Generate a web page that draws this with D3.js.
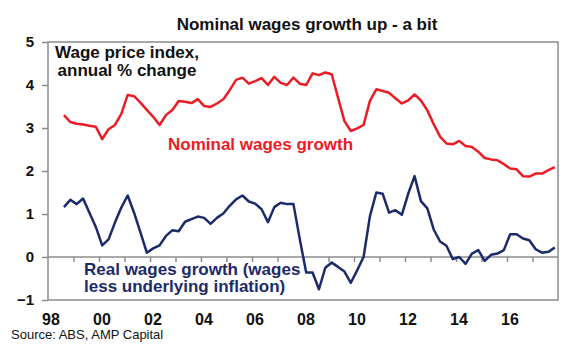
<!DOCTYPE html>
<html>
<head>
<meta charset="utf-8">
<script src="https://cdn.jsdelivr.net/npm/d3@7"></script>
<style>
  html, body { margin: 0; padding: 0; background: #fff; }
  svg { display: block; font-family: "Liberation Sans", Arial, sans-serif; }
</style>
</head>
<body>
<div id="chart"></div>
<script>
// ── Data ─────────────────────────────────────────────────────────
// Quarterly, Sep 1998 .. Dec 2017 (annual % change)
const startYear = 1998.625;
const nominalWages = [
  3.30, 3.14, 3.10, 3.08, 3.05, 3.03, 2.74, 2.97, 3.07, 3.33,
  3.77, 3.74, 3.59, 3.42, 3.26, 3.07, 3.30, 3.42, 3.63, 3.61,
  3.58, 3.67, 3.51, 3.49, 3.57, 3.67, 3.88, 4.12, 4.17, 4.03,
  4.09, 4.16, 4.00, 4.19, 4.05, 4.00, 4.17, 4.03, 4.00, 4.27,
  4.23, 4.29, 4.25, 3.70, 3.16, 2.93, 2.99, 3.07, 3.63, 3.90,
  3.86, 3.82, 3.69, 3.57, 3.64, 3.78, 3.64, 3.41, 3.09, 2.80,
  2.64, 2.62, 2.70, 2.58, 2.56, 2.45, 2.30, 2.27, 2.25, 2.16,
  2.06, 2.04, 1.88, 1.87, 1.94, 1.94, 2.02, 2.09
];
const realWages = [
  1.16, 1.33, 1.23, 1.36, 1.03, 0.70, 0.27, 0.41, 0.80, 1.15,
  1.43, 1.03, 0.57, 0.10, 0.20, 0.27, 0.49, 0.62, 0.60, 0.82,
  0.88, 0.94, 0.91, 0.77, 0.91, 1.01, 1.19, 1.34, 1.43, 1.29,
  1.24, 1.11, 0.81, 1.16, 1.26, 1.23, 1.23, 0.41, -0.36, -0.36,
  -0.75, -0.25, -0.13, -0.23, -0.34, -0.60, -0.31, 0.00, 0.95, 1.50,
  1.47, 1.03, 1.09, 0.98, 1.47, 1.88, 1.30, 1.13, 0.64, 0.36,
  0.26, -0.05, 0.00, -0.16, 0.08, 0.16, -0.09, 0.05, 0.08, 0.16,
  0.53, 0.53, 0.43, 0.39, 0.18, 0.10, 0.12, 0.22
];
const yTicks = [-1, 0, 1, 2, 3, 4, 5];
const xTickYears = d3.range(1999, 2018);
const xLabelYears = [1998, 2000, 2002, 2004, 2006, 2008, 2010, 2012, 2014, 2016];

const RED = '#ec1c24';
const NAVY = '#1b2a6b';
const GRID = '#8c8c8c';

// ── Layout ───────────────────────────────────────────────────────
const W = 580, H = 352;
const plot = { left: 48, right: 558, top: 42, bottom: 300 };

const svg = d3.select('#chart').append('svg')
  .attr('width', W)
  .attr('height', H);

const x = d3.scaleLinear().domain([1998, 2018]).range([plot.left, plot.right]);
const y = d3.scaleLinear().domain([-1, 5]).range([plot.bottom, plot.top]);

const t = i => startYear + i * 0.25;

// Title
svg.append('text')
  .attr('x', 307).attr('y', 30)
  .attr('text-anchor', 'middle')
  .attr('font-size', 17).attr('font-weight', 700)
  .attr('fill', '#111')
  .text('Nominal wages growth up - a bit');

// Frame
svg.append('rect')
  .attr('x', plot.left).attr('y', plot.top)
  .attr('width', plot.right - plot.left)
  .attr('height', plot.bottom - plot.top)
  .attr('fill', 'none')
  .attr('stroke', GRID)
  .attr('stroke-width', 1.5);

// Y axis ticks + labels
const yAxis = d3.axisLeft(y).tickValues(yTicks).tickSize(6).tickPadding(8)
  .tickFormat(d3.format('d'));
svg.append('g')
  .attr('transform', `translate(${plot.left},0)`)
  .call(yAxis)
  .call(g => g.select('.domain').remove())
  .call(g => g.selectAll('line').attr('stroke', GRID).attr('stroke-width', 1.5))
  .call(g => g.selectAll('text')
    .attr('font-size', 15).attr('font-weight', 700).attr('fill', '#111')
    .attr('font-family', '"Liberation Sans", Arial, sans-serif'));

// Zero line with yearly ticks
const xAxis = d3.axisBottom(x).tickValues(xTickYears).tickSize(5).tickFormat('');
svg.append('g')
  .attr('transform', `translate(0,${y(0)})`)
  .call(xAxis)
  .call(g => g.select('.domain').attr('d', `M${plot.left},0H${plot.right}`)
    .attr('stroke', GRID).attr('stroke-width', 1.5))
  .call(g => g.selectAll('line').attr('stroke', GRID).attr('stroke-width', 1.5));

// X labels (two-digit years)
svg.append('g')
  .selectAll('text')
  .data(xLabelYears)
  .enter()
  .append('text')
  .attr('x', d => x(d) + 3)
  .attr('y', 325)
  .attr('text-anchor', 'middle')
  .attr('font-size', 16).attr('font-weight', 700)
  .attr('fill', '#111')
  .text(d => String(d).slice(2));

// Lines
const line = d3.line()
  .x((d, i) => x(t(i)))
  .y(d => y(d));

svg.append('path')
  .datum(nominalWages)
  .attr('d', line)
  .attr('fill', 'none')
  .attr('stroke', RED)
  .attr('stroke-width', 2.5)
  .attr('stroke-linejoin', 'round');

svg.append('path')
  .datum(realWages)
  .attr('d', line)
  .attr('fill', 'none')
  .attr('stroke', NAVY)
  .attr('stroke-width', 2.5)
  .attr('stroke-linejoin', 'round');

// Annotations
const note = svg.append('text')
  .attr('text-anchor', 'middle')
  .attr('font-size', 17).attr('font-weight', 700)
  .attr('fill', '#111');
note.append('tspan').attr('x', 127).attr('y', 58).text('Wage price index,');
note.append('tspan').attr('x', 127).attr('y', 76).text('annual % change');

svg.append('text')
  .attr('x', 168).attr('y', 150)
  .attr('font-size', 17).attr('font-weight', 700)
  .attr('fill', RED)
  .text('Nominal wages growth');

const real = svg.append('text')
  .attr('font-size', 17).attr('font-weight', 700)
  .attr('fill', NAVY);
real.append('tspan').attr('x', 84).attr('y', 275).text('Real wages growth (wages');
real.append('tspan').attr('x', 84).attr('y', 292).text('less underlying inflation)');

// Source
svg.append('text')
  .attr('x', 11).attr('y', 339)
  .attr('font-size', 13)
  .attr('fill', '#111')
  .text('Source: ABS, AMP Capital');
</script>
</body>
</html>
